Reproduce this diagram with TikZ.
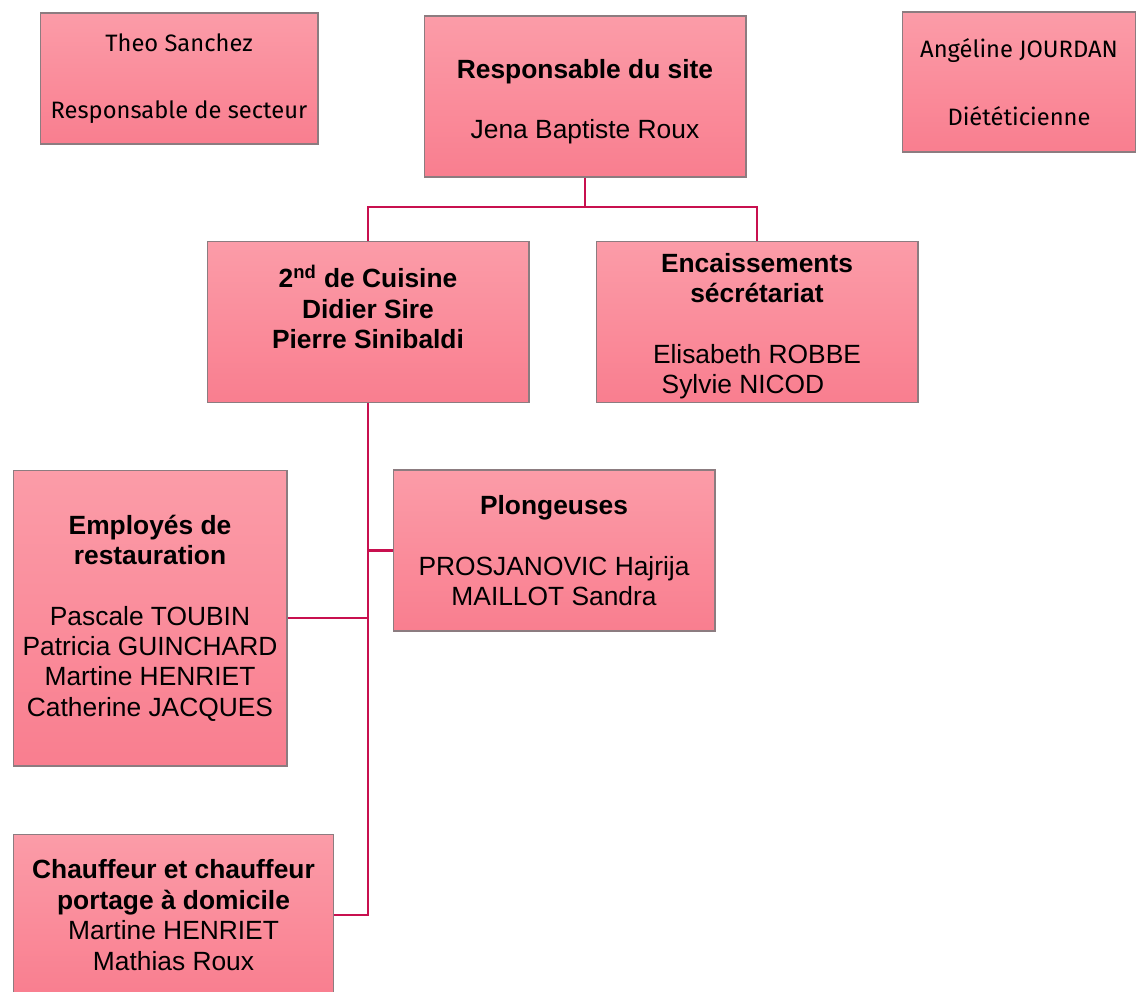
\documentclass[tikz,border=0pt]{standalone}
\usepackage{fontspec}
\setmainfont{Liberation Sans}
\newfontfamily\cornerfont{Fira Sans}
\usetikzlibrary{
	calc,
	positioning,
}
\definecolor{boxtop}{HTML}{FB9CA8}
\definecolor{boxbot}{HTML}{F97E8F}
\definecolor{boxline}{HTML}{8C7C80}
\definecolor{link}{HTML}{C8104F}
\tikzset{org box/.style={
	draw=boxline,
	line width=0.6pt,
	rectangle,
	top color=boxtop,
	bottom color=boxbot,
	align=center,
	inner sep=0mm,
	font=\fontsize{15}{17.3}\selectfont,
	text=black,
}}

\begin{document}
\begin{tikzpicture}[
x=0.02cm,
y=-0.02cm,
link/.style={draw=link, line width=1.6pt},
]
% \draw [help lines] (0,0) grid (1136,991);
\useasboundingbox (0,0) rectangle (1136,991);

\tikzset{
	wide/.style={org box, minimum width=6.44cm, minimum height=3.22cm},
	side/.style={org box, font=\cornerfont\fontsize{13.5}{19.5}\selectfont},
}

\begin{scope}[every node/.style={side}]
\node(theo)[minimum width=5.56cm, minimum height=2.62cm] at(179,78.5)
	{Theo Sanchez\\[19pt]Responsable de secteur};
\node(angeline)[minimum width=4.68cm, minimum height=2.8cm] at(1019,82)
	{Angéline JOURDAN\\[19pt]Diététicienne};
\end{scope}

\begin{scope}[every node/.style={wide}]
\node(site)		at(585,96.5)	{\rule{0pt}{16.7pt}\textbf{Responsable du site}\\~\\Jena Baptiste Roux};
\node(cuisine)	at(368,322)		{\textbf{2\textsuperscript{nd} de Cuisine}\\\textbf{Didier Sire}\\\textbf{Pierre Sinibaldi}\\~};
\node(encaiss)	at(757,322)		{\rule{0pt}{15.5pt}\textbf{Encaissements}\\\textbf{sécrétariat}\\~\\Elisabeth ROBBE\\Sylvie NICOD\hspace*{0.56cm}};
\node(plong)	at(554,550.5)	{\textbf{Plongeuses}\\~\\PROSJANOVIC Hajrija\\MAILLOT Sandra};
\end{scope}

\node(employes)[org box, minimum width=5.48cm, minimum height=5.92cm] at(150,618)
	{\textbf{Employés de}\\\textbf{restauration}\\~\\Pascale TOUBIN\\Patricia GUINCHARD\\Martine HENRIET\\Catherine JACQUES};
\node(chauffeur)[org box, minimum width=6.42cm, minimum height=3.24cm] at(173.5,915)
	{\textbf{Chauffeur et chauffeur}\\\textbf{portage à domicile}\\Martine HENRIET\\Mathias Roux};

\coordinate(bus) at(585,207);

\begin{scope}[link]
\draw (site.south) -- (bus);
\draw (cuisine.north) |- (bus) -| (encaiss.north);
\draw (cuisine.south) -- (cuisine.south |- chauffeur.east) -- (chauffeur.east);
\draw (plong.west) -- (plong.west -| cuisine.south);
\draw (employes.east) -- (employes.east -| cuisine.south);
\end{scope}

\end{tikzpicture}
\end{document}
